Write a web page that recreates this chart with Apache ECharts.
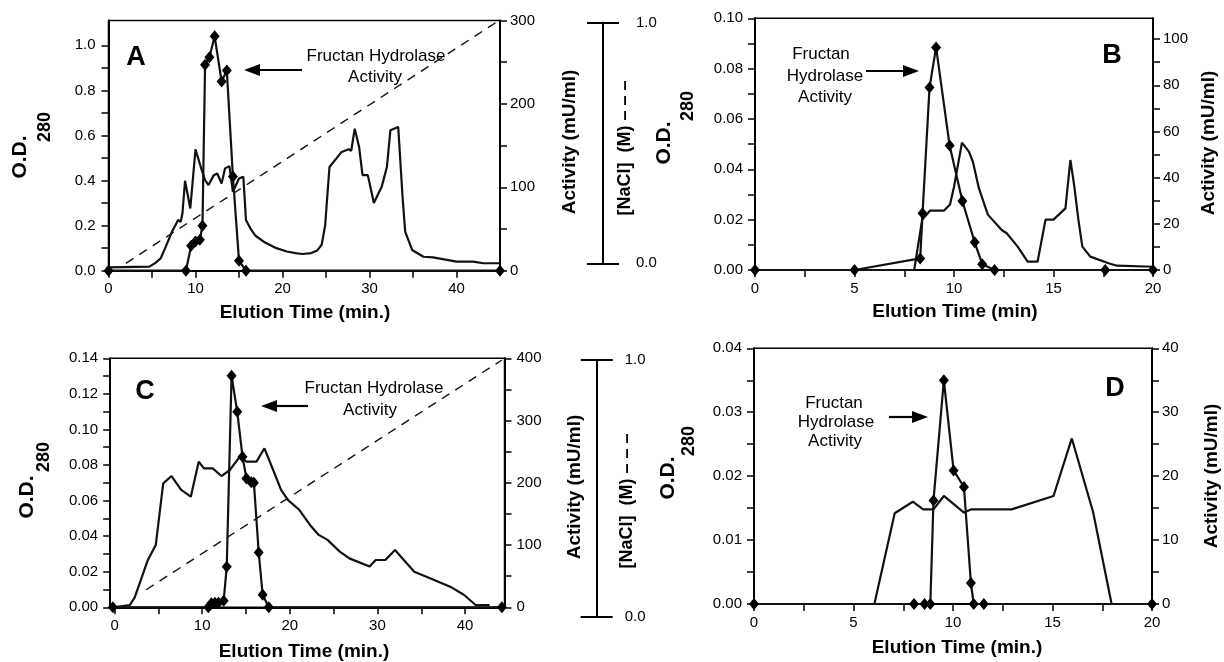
<!DOCTYPE html>
<html><head><meta charset="utf-8">
<script src="https://cdn.jsdelivr.net/npm/echarts@6/dist/echarts.min.js"></script>
<style>html,body{margin:0;padding:0;background:#fff}#c{width:1224px;height:662px}</style>
</head><body><div id="c"></div>
<script>
// ---------- DATA ----------
// Panel A (time min, value)
const aOD = [[0,0.015],[4.7,0.018],[5.4,0.035],[6.0,0.055],[6.5,0.099],[7.3,0.173],[8.0,0.225],[8.3,0.217],[8.5,0.255],[8.8,0.399],[9.4,0.276],[10.0,0.538],[10.6,0.461],[11.1,0.402],[11.5,0.38],[12.1,0.424],[12.5,0.431],[13.0,0.387],[13.4,0.454],[13.9,0.464],[14.3,0.35],[15.0,0.409],[15.5,0.417],[15.8,0.225],[16.3,0.188],[16.9,0.155],[18.0,0.125],[19.3,0.10],[20.5,0.085],[21.5,0.078],[22.3,0.074],[23.3,0.078],[24.0,0.09],[24.5,0.115],[24.9,0.2],[25.4,0.46],[26.8,0.527],[27.6,0.539],[27.9,0.532],[28.3,0.63],[28.8,0.55],[29.2,0.424],[29.8,0.424],[30.1,0.372],[30.5,0.30],[31.4,0.372],[32.0,0.46],[32.4,0.623],[33.3,0.638],[33.8,0.328],[34.1,0.173],[34.9,0.092],[36.2,0.062],[37.3,0.059],[40.0,0.04],[41.9,0.04],[43.1,0.033],[45,0.033]];
const aActivity = [[0,0],[8.9,0],[9.5,30],[10.0,35],[10.5,37],[10.8,54],[11.1,247],[11.6,256],[12.2,281],[13.0,227],[13.6,240],[14.3,113],[15.0,12],[15.8,0],[45,0]];
const aNaCl = [[2.0,0],[44.5,1.0]];
// Panel B
const bOD = [[0,0],[8.0,0],[8.4,0.02],[8.8,0.0236],[9.5,0.0236],[9.8,0.026],[10.0,0.033],[10.4,0.0506],[10.75,0.047],[10.95,0.043],[11.25,0.0325],[11.7,0.022],[12.4,0.0159],[12.65,0.0146],[13.2,0.0093],[13.7,0.0033],[14.2,0.0033],[14.6,0.02],[15.0,0.02],[15.6,0.0245],[15.8,0.04],[15.85,0.0437],[16.05,0.033],[16.25,0.02],[16.45,0.0093],[16.85,0.0053],[17.8,0.0026],[18.2,0.0017],[20,0.0013]];
const bActivity = [[0,0],[5.0,0],[8.3,5],[8.42,24.6],[8.77,79],[9.1,96.4],[9.78,53.9],[10.42,29.9],[11.04,12],[11.42,2.5],[12.04,0],[17.6,0],[20,0]];
// Panel C
const cOD = [[-0.15,0],[1.75,0.0013],[2.3,0.0056],[3.8,0.0266],[4.7,0.035],[5.55,0.0697],[6.5,0.0738],[7.6,0.066],[8.7,0.0622],[9.6,0.0819],[10.2,0.0781],[11.2,0.0781],[12.2,0.0738],[13.15,0.0772],[14.3,0.0847],[15.05,0.0819],[16.2,0.0819],[17.1,0.0894],[18.1,0.0772],[19.0,0.066],[19.8,0.0603],[21.1,0.0547],[22.3,0.0463],[23.3,0.0407],[24.3,0.0379],[25.7,0.0313],[26.8,0.0275],[29.1,0.0229],[29.8,0.0266],[30.9,0.0266],[32.0,0.0322],[34.2,0.02],[36.0,0.0163],[38.3,0.0116],[39.9,0.0069],[41.2,0.0013],[42.8,0.0013]];
const cActivity = [[-0.2,0],[10.7,0],[11.05,6.4],[11.45,7.4],[11.85,7.4],[12.45,10.6],[12.8,65],[13.35,372],[14.0,314],[14.6,242],[15.05,207],[15.6,201],[15.9,200],[16.45,88],[16.9,20],[17.6,0],[44.2,0]];
const cNaCl = [[3.6,0.105],[44.2,1.0]];
// Panel D
const dOD = [[0,0],[6.05,0],[7.07,0.0142],[7.98,0.016],[8.5,0.0148],[9.02,0.0148],[9.54,0.0169],[10.55,0.0143],[10.9,0.0148],[12.95,0.0148],[15.05,0.0169],[15.97,0.0259],[17.04,0.0144],[17.97,0],[20,0]];
const dActivity = [[0,0],[8.04,0],[8.57,0],[8.86,0],[9.02,16.2],[9.54,35.0],[10.03,20.9],[10.55,18.3],[10.9,3.3],[11.04,0],[11.55,0],[20,0]];

// ---------- TICKS / LABELS ----------
const aXLabels = [0,10,20,30,40], aXTicks = [0,5,10,15,20,25,30,35,40];
const aYLabels = [0,0.2,0.4,0.6,0.8,1.0], aYTicks = [0,0.1,0.2,0.3,0.4,0.5,0.6,0.7,0.8,0.9,1.0];
const aRLabels = [0,100,200,300], aRTicks = [0,50,100,150,200,250,300];
const bXLabels = [0,5,10,15,20], bXTicks = [0,2.5,5,7.5,10,12.5,15,17.5,20];
const bYLabels = [0,0.02,0.04,0.06,0.08,0.10], bYTicks = [0,0.01,0.02,0.03,0.04,0.05,0.06,0.07,0.08,0.09,0.10];
const bRLabels = [0,20,40,60,80,100], bRTicks = [0,10,20,30,40,50,60,70,80,90,100];
const cXLabels = [0,10,20,30,40], cXTicks = [0,5,10,15,20,25,30,35,40];
const cYLabels = [0,0.02,0.04,0.06,0.08,0.10,0.12,0.14], cYTicks = [0,0.01,0.02,0.03,0.04,0.05,0.06,0.07,0.08,0.09,0.10,0.11,0.12,0.13,0.14];
const cRLabels = [0,100,200,300,400], cRTicks = [0,50,100,150,200,250,300,350,400];
const dXLabels = [0,5,10,15,20], dXTicks = [0,2.5,5,7.5,10,12.5,15,17.5,20];
const dYLabels = [0,0.01,0.02,0.03,0.04], dYTicks = [0,0.005,0.01,0.015,0.02,0.025,0.03,0.035,0.04];
const dRLabels = [0,10,20,30,40], dRTicks = [0,5,10,15,20,25,30,35,40];
const naclLabels = [0,1];

// ---------- BUILD ----------
const FONT = '"Liberation Sans", Arial, Helvetica, sans-serif';
const BLACK = '#000';
const chart = echarts.init(document.getElementById('c'), null, {renderer:'canvas'});

function xAx(grid, min, max, labels, ticks, show) {
  return {
    type:'value', gridIndex:grid, min:min, max:max, show:show !== false,
    axisLine:{show:true, onZero:false, lineStyle:{color:BLACK, width:2}},
    axisTick:{show:true, inside:false, length:7, customValues:ticks || [], lineStyle:{color:BLACK, width:1.5}},
    axisLabel:{show:true, customValues:labels || [], margin:11, color:BLACK, fontFamily:FONT, fontSize:15},
    splitLine:{show:false}
  };
}
function yAx(grid, pos, min, max, labels, ticks, dec, margin) {
  return {
    type:'value', gridIndex:grid, position:pos, min:min, max:max,
    axisLine:{show:true, onZero:false, lineStyle:{color:BLACK, width:2}},
    axisTick:{show:true, inside:false, length:7, customValues:ticks, lineStyle:{color:BLACK, width:1.5}},
    axisLabel:{show:true, customValues:labels, margin:margin, color:BLACK, fontFamily:FONT, fontSize:15,
      formatter:function(v){ return dec>0 ? Number(v).toFixed(dec) : String(Math.round(v)); }},
    splitLine:{show:false}
  };
}

const grids = [
  {left:108.5, right:724, top:20.5, bottom:391.3, show:true, borderColor:BLACK, borderWidth:1.5}, // A
  {left:755, right:71, top:18.3, bottom:392, show:true, borderColor:BLACK, borderWidth:1.5},      // B
  {left:110.2, right:719.5, top:358.3, bottom:54.7, show:true, borderColor:BLACK, borderWidth:1.5}, // C
  {left:754, right:72, top:348.3, bottom:58, show:true, borderColor:BLACK, borderWidth:1.5},      // D
  {left:108.5, right:724, top:22.7, bottom:398.7, show:false},   // A NaCl
  {left:110.2, right:719.5, top:360, bottom:45.3, show:false}    // C NaCl
];

const xAxes = [
  xAx(0, 0, 45, aXLabels, aXTicks),
  xAx(1, 0, 20, bXLabels, bXTicks),
  xAx(2, -0.5, 44.5, cXLabels, cXTicks),
  xAx(3, 0, 20, dXLabels, dXTicks),
  xAx(4, 0, 45, [], [], false),
  xAx(5, -0.5, 44.5, [], [], false)
];

function naclAxis(grid, offset, inside, showLabel, margin) {
  return {
    type:'value', gridIndex:grid, position:'right', offset:offset, min:0, max:1,
    axisLine:{show:true, onZero:false, lineStyle:{color:BLACK, width:2}},
    axisTick:{show:true, inside:inside, length:16, customValues:naclLabels, lineStyle:{color:BLACK, width:2}},
    axisLabel:{show:showLabel, customValues:naclLabels, margin:margin, color:BLACK, fontFamily:FONT, fontSize:15,
      formatter:function(v){ return Number(v).toFixed(1); }},
    splitLine:{show:false}
  };
}

const yAxes = [
  yAx(0, 'left', 0, 1.11, aYLabels, aYTicks, 1, 13),
  yAx(0, 'right', 0, 300, aRLabels, aRTicks, 0, 10),
  yAx(1, 'left', 0, 0.10, bYLabels, bYTicks, 2, 12),
  yAx(1, 'right', 0, 109, bRLabels, bRTicks, 0, 10),
  yAx(2, 'left', 0, 0.14, cYLabels, cYTicks, 2, 12),
  yAx(2, 'right', 0, 400, cRLabels, cRTicks, 0, 12),
  yAx(3, 'left', 0, 0.04, dYLabels, dYTicks, 2, 12),
  yAx(3, 'right', 0, 40, dRLabels, dRTicks, 0, 10),
  naclAxis(4, 103, true, false, 30),
  naclAxis(4, 103, false, true, 33),
  naclAxis(5, 92.2, true, false, 28),
  naclAxis(5, 92.2, false, true, 28)
];

function odSeries(data, xi, yi) {
  return {type:'line', data:data, xAxisIndex:xi, yAxisIndex:yi, symbol:'none', showSymbol:false,
    lineStyle:{color:'#111', width:2.2}, z:3, silent:true, animation:false};
}
function actSeries(data, xi, yi) {
  return {type:'line', data:data, xAxisIndex:xi, yAxisIndex:yi, symbol:'diamond', symbolSize:[10,12], showSymbol:true,
    itemStyle:{color:'#000'}, lineStyle:{color:'#111', width:2.2}, z:4, clip:false, silent:true, animation:false};
}
function naclSeries(data, xi, yi) {
  return {type:'line', data:data, xAxisIndex:xi, yAxisIndex:yi, symbol:'none', showSymbol:false,
    lineStyle:{color:'#111', width:1.4, type:[9,7]}, z:2, silent:true, animation:false};
}

const series = [
  odSeries(aOD, 0, 0), actSeries(aActivity, 0, 1), naclSeries(aNaCl, 4, 9),
  odSeries(bOD, 1, 2), actSeries(bActivity, 1, 3),
  odSeries(cOD, 2, 4), actSeries(cActivity, 2, 5), naclSeries(cNaCl, 5, 11),
  odSeries(dOD, 3, 6), actSeries(dActivity, 3, 7)
];

// ---------- TEXT / ANNOTATIONS ----------
function txt(s, x, y, size, bold, rot) {
  return {type:'text', x:x, y:y, rotation:rot ? Math.PI/2 : 0, z:10, silent:true,
    style:{text:s, x:0, y:0, align:'center', verticalAlign:'middle', fill:BLACK,
      font:(bold ? 'bold ' : '') + size + 'px ' + FONT}};
}
function arrow(x1, x2, y, dir) {
  const base = x2 - dir * 16;
  return [
    {type:'line', z:10, silent:true, shape:{x1:x1, y1:y, x2:base, y2:y}, style:{stroke:BLACK, lineWidth:2.2}},
    {type:'polygon', z:10, silent:true, shape:{points:[[x2, y],[base, y-6],[base, y+6]]}, style:{fill:BLACK}}
  ];
}

const graphics = [
  txt('Elution Time (min.)', 305, 313, 19, true),
  txt('Elution Time (min)', 955, 312, 19, true),
  txt('Elution Time (min.)', 304, 652, 19, true),
  txt('Elution Time (min.)', 957, 648, 19, true),
  txt('O.D.', 20, 157, 21, true, true), txt('280', 45, 127, 18, true, true),
  txt('O.D.', 664, 143, 21, true, true), txt('280', 688, 106, 18, true, true),
  txt('O.D.', 27, 497, 21, true, true), txt('280', 44, 457, 18, true, true),
  txt('O.D.', 668, 478, 21, true, true), txt('280', 689, 441, 18, true, true),
  txt('Activity (mU/ml)', 570, 142, 19, true, true),
  txt('Activity (mU/ml)', 1209, 143, 19, true, true),
  txt('Activity (mU/ml)', 575, 487, 19, true, true),
  txt('Activity (mU/ml)', 1212, 476, 19, true, true),
  txt('[NaCl]  (M) – – –', 625, 148, 18, true, true),
  txt('[NaCl]  (M) – – –', 627, 501, 18, true, true),
  txt('A', 136, 58, 27, true), txt('B', 1112, 56, 27, true),
  txt('C', 145, 392, 27, true), txt('D', 1115, 389, 27, true),
  txt('Fructan Hydrolase', 376, 56, 17), txt('Activity', 375, 77, 17),
  txt('Fructan', 821, 54, 17), txt('Hydrolase', 825, 76, 17), txt('Activity', 825, 97, 17),
  txt('Fructan Hydrolase', 374, 388, 17), txt('Activity', 370, 410, 17),
  txt('Fructan', 834, 403, 17), txt('Hydrolase', 836, 422, 17), txt('Activity', 835, 441, 17)
].concat(arrow(302, 244, 70, -1), arrow(866, 919, 71, 1), arrow(308, 261, 406, -1), arrow(889, 928, 417, 1));

chart.setOption({
  backgroundColor:'#fff',
  animation:false,
  grid:grids,
  xAxis:xAxes,
  yAxis:yAxes,
  series:series,
  graphic:graphics
});
</script></body></html>
